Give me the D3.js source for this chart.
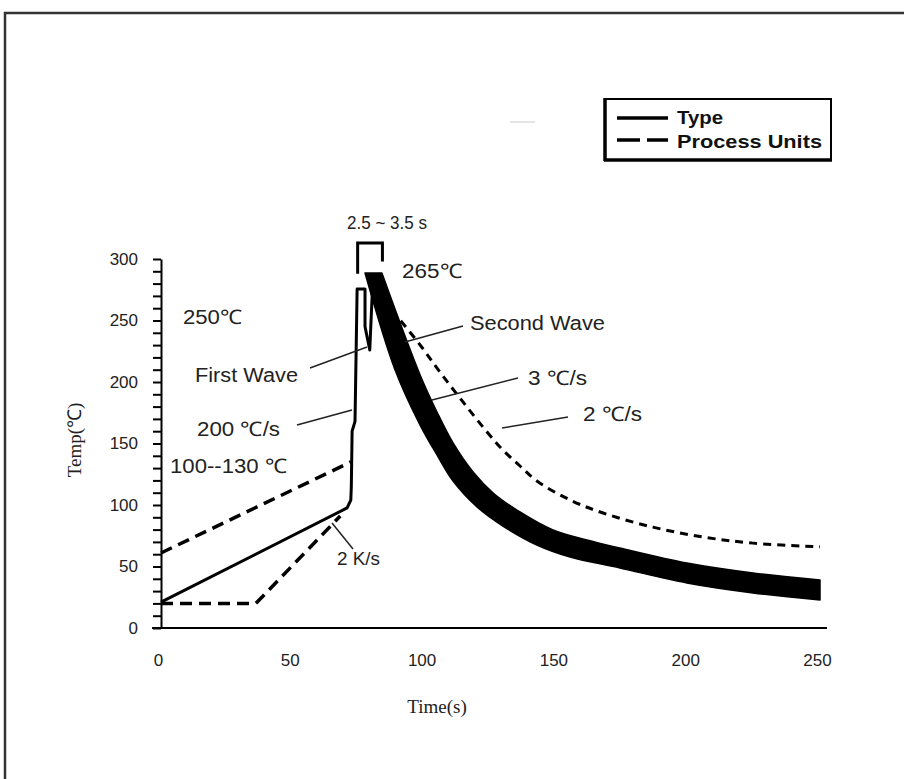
<!DOCTYPE html>
<html>
<head>
<meta charset="utf-8">
<script src="https://cdn.jsdelivr.net/npm/d3@7"></script>
<style>
  body { margin: 0; background: #fff; }
  svg { display: block; }
</style>
</head>
<body>
<svg width="904" height="779"></svg>
<script>
// ---- data ----
const xTicks = [0, 50, 100, 150, 200, 250];
const yTicks = [0, 50, 100, 150, 200, 250, 300];
const yMinor = d3.range(0, 301, 10);

// solid "Type" curve: ramp, first wave spike
const typeRamp = [[0, 21], [70.6, 97.6], [72, 104], [72.2, 115], [72.5, 160], [73.6, 168],
  [74.4, 275.6], [77.4, 275.6], [77.4, 245], [79.2, 226], [80.4, 285]];
// thick second wave / cooling band (upper edge and lower edge)
const bandUpper = [[77.4, 288.6], [83.8, 288.6], [98.3, 205.7], [104.7, 175.6], [110.8, 150.4],
  [118.4, 126.8], [126, 109.8], [136.2, 94.3], [148.7, 79.7], [161.6, 71.5], [174.1, 65],
  [199.5, 52.8], [224.6, 44.7], [250, 39]];
const bandLower = [[77.4, 288.6], [88.8, 209.8], [98.3, 165], [104.7, 140.7], [110.8, 119.5],
  [119.9, 98.4], [129.7, 82.9], [142.6, 67.5], [155.2, 57.7], [174.1, 48.8], [199.5, 36.6],
  [224.6, 28.5], [250, 22.8]];

// dashed "Process Units" curves
const procUpper = [[0, 61], [72, 135]];
const procLower = [[0, 20], [36, 20], [68, 91]];
const procCool = [[87.6, 258.5], [98.3, 230.1], [105.8, 208.1], [114.6, 183.7], [123.7, 159.3],
  [129.7, 144.7], [136.2, 131.7], [142.6, 119.5], [155.2, 104.1], [167.7, 93.5],
  [186.6, 82], [205.6, 74], [224.6, 69], [250, 66]];

const legendLabels = ['Type', 'Process Units'];

// ---- drawing ----
const svg = d3.select('svg');

// outer frame (runs off the right and bottom)
svg.append('rect')
  .attr('x', 5).attr('y', 13)
  .attr('width', 1000).attr('height', 900)
  .attr('fill', 'none')
  .attr('stroke', '#333')
  .attr('stroke-width', 2.5);

const x = d3.scaleLinear().domain([0, 250]).range([161, 820]);
const y = d3.scaleLinear().domain([0, 300]).range([628, 259]);

//y axis with minor ticks every 10
const yAxis = svg.append('g')
  .attr('transform', `translate(${x(0)},0)`)
  .call(d3.axisLeft(y)
    .tickValues(yMinor)
    .tickSize(8)
    .tickSizeOuter(0)
    .tickPadding(15)
    .tickFormat(d => yTicks.includes(d) ? d : ''));
yAxis.select('.domain').attr('stroke-width', 2);
yAxis.selectAll('.tick line').attr('stroke-width', 2);
yAxis.selectAll('text')
  .style('font-family', '"Liberation Sans", Arial, sans-serif')
  .style('font-size', '17px')
  .attr('fill', '#222');

//x axis: labels only, plus a longer base line
const xAxis = svg.append('g')
  .attr('transform', `translate(0,${y(0)})`)
  .call(d3.axisBottom(x)
    .tickValues(xTicks)
    .tickSize(0)
    .tickPadding(26));
xAxis.select('.domain').remove();
xAxis.selectAll('text')
  .attr('dx', -3)
  .style('font-family', '"Liberation Sans", Arial, sans-serif')
  .style('font-size', '17px')
  .attr('fill', '#222');
svg.append('line')
  .attr('x1', 152).attr('x2', 827)
  .attr('y1', y(0)).attr('y2', y(0))
  .attr('stroke', '#000')
  .attr('stroke-width', 2);

// axis titles
svg.append('text')
  .attr('x', 437).attr('y', 713)
  .attr('text-anchor', 'middle')
  .style('font-family', '"Liberation Serif", "Times New Roman", serif')
  .style('font-size', '19px')
  .attr('fill', '#222')
  .text('Time(s)');
svg.append('text')
  .attr('transform', 'translate(81,440) rotate(-90)')
  .attr('text-anchor', 'middle')
  .style('font-family', '"Liberation Serif", "Times New Roman", serif')
  .style('font-size', '19px')
  .attr('fill', '#222')
  .text('Temp(℃)');

const line = d3.line().x(d => x(d[0])).y(d => y(d[1]));
const smooth = d3.line().x(d => x(d[0])).y(d => y(d[1])).curve(d3.curveCatmullRom.alpha(0.5));

// thick band: smooth upper edge out, smooth lower edge back
const upperPath = smooth(bandUpper.slice(1));
const lowerPath = smooth(bandLower.slice().reverse());
svg.append('path')
  .attr('d', `M${x(bandUpper[0][0])},${y(bandUpper[0][1])}L` + upperPath.slice(1) + 'L' + lowerPath.slice(1) + 'Z')
  .attr('fill', '#000')
  .attr('stroke', '#000')
  .attr('stroke-width', 1.5)
  .attr('stroke-linejoin', 'round');

svg.append('path')
  .attr('d', line(typeRamp))
  .attr('fill', 'none')
  .attr('stroke', '#000')
  .attr('stroke-width', 3)
  .attr('stroke-linejoin', 'round');

[procUpper, procLower].forEach(p => {
  svg.append('path')
    .attr('d', line(p))
    .attr('fill', 'none')
    .attr('stroke', '#000')
    .attr('stroke-width', 3.5)
    .attr('stroke-dasharray', '12,7');
});
svg.append('path')
  .attr('d', smooth(procCool))
  .attr('fill', 'none')
  .attr('stroke', '#000')
  .attr('stroke-width', 3)
  .attr('stroke-dasharray', '8,6');

// 2.5 ~ 3.5 s bracket
svg.append('path')
  .attr('d', `M${x(74.6)},${y(288)}V${y(313)}H${x(84)}V${y(298)}`)
  .attr('fill', 'none')
  .attr('stroke', '#000')
  .attr('stroke-width', 3);

// leader lines
const leaders = [
  [310, 368, 367, 347],
  [297, 425, 352, 410],
  [463, 326, 405, 342],
  [518, 378, 432, 400],
  [568, 417, 502, 428],
  [332, 523, 353, 549]
];
svg.selectAll('.leader')
  .data(leaders).enter()
  .append('line')
  .attr('x1', d => d[0]).attr('y1', d => d[1])
  .attr('x2', d => d[2]).attr('y2', d => d[3])
  .attr('stroke', '#222')
  .attr('stroke-width', 1.5);

// annotations
const notes = [
  { text: '2.5 ~ 3.5 s', x: 347, y: 229, w: 80, fs: 18 },
  { text: '265℃', x: 402, y: 278, w: 60, fs: 20 },
  { text: '250℃', x: 183, y: 324, w: 59, fs: 20 },
  { text: 'Second Wave', x: 470, y: 330, w: 135, fs: 20 },
  { text: 'First Wave', x: 195, y: 382, w: 103, fs: 20 },
  { text: '3 ℃/s', x: 528, y: 385, w: 59, fs: 20 },
  { text: '2 ℃/s', x: 583, y: 421, w: 59, fs: 20 },
  { text: '200 ℃/s', x: 197, y: 436, w: 83, fs: 20 },
  { text: '100--130 ℃', x: 170, y: 473, w: 117, fs: 20 },
  { text: '2 K/s', x: 337, y: 565, w: 43, fs: 19 }
];
svg.selectAll('.note')
  .data(notes).enter()
  .append('text')
  .attr('x', d => d.x).attr('y', d => d.y)
  .attr('textLength', d => d.w)
  .attr('lengthAdjust', 'spacingAndGlyphs')
  .style('font-family', '"Liberation Sans", Arial, sans-serif')
  .style('font-size', d => d.fs + 'px')
  .attr('fill', '#222')
  .text(d => d.text);

// faint stray mark
svg.append('line')
  .attr('x1', 510).attr('x2', 535)
  .attr('y1', 122).attr('y2', 122)
  .attr('stroke', '#ddd')
  .attr('stroke-width', 1.5);

// legend
const lg = svg.append('g');
lg.append('rect')
  .attr('x', 605).attr('y', 99)
  .attr('width', 226).attr('height', 61)
  .attr('fill', '#fff')
  .attr('stroke', '#000')
  .attr('stroke-width', 2);
lg.append('line').attr('x1', 605).attr('x2', 605).attr('y1', 98).attr('y2', 161)
  .attr('stroke', '#000').attr('stroke-width', 3.5);
lg.append('line').attr('x1', 604).attr('x2', 832).attr('y1', 160).attr('y2', 160)
  .attr('stroke', '#000').attr('stroke-width', 3.5);
lg.append('line').attr('x1', 617).attr('x2', 668).attr('y1', 118).attr('y2', 118)
  .attr('stroke', '#000').attr('stroke-width', 3.5);
lg.append('line').attr('x1', 617).attr('x2', 668).attr('y1', 140).attr('y2', 140)
  .attr('stroke', '#000').attr('stroke-width', 3.5)
  .attr('stroke-dasharray', '23,7');
lg.selectAll('.lt')
  .data(legendLabels).enter()
  .append('text')
  .attr('x', 677)
  .attr('y', (d, i) => 124 + i * 24)
  .attr('textLength', (d, i) => i ? 145 : 46)
  .attr('lengthAdjust', 'spacingAndGlyphs')
  .style('font-family', '"Liberation Sans", Arial, sans-serif')
  .style('font-size', '19px')
  .style('font-weight', 'bold')
  .attr('fill', '#111')
  .text(d => d);
</script>
</body>
</html>
